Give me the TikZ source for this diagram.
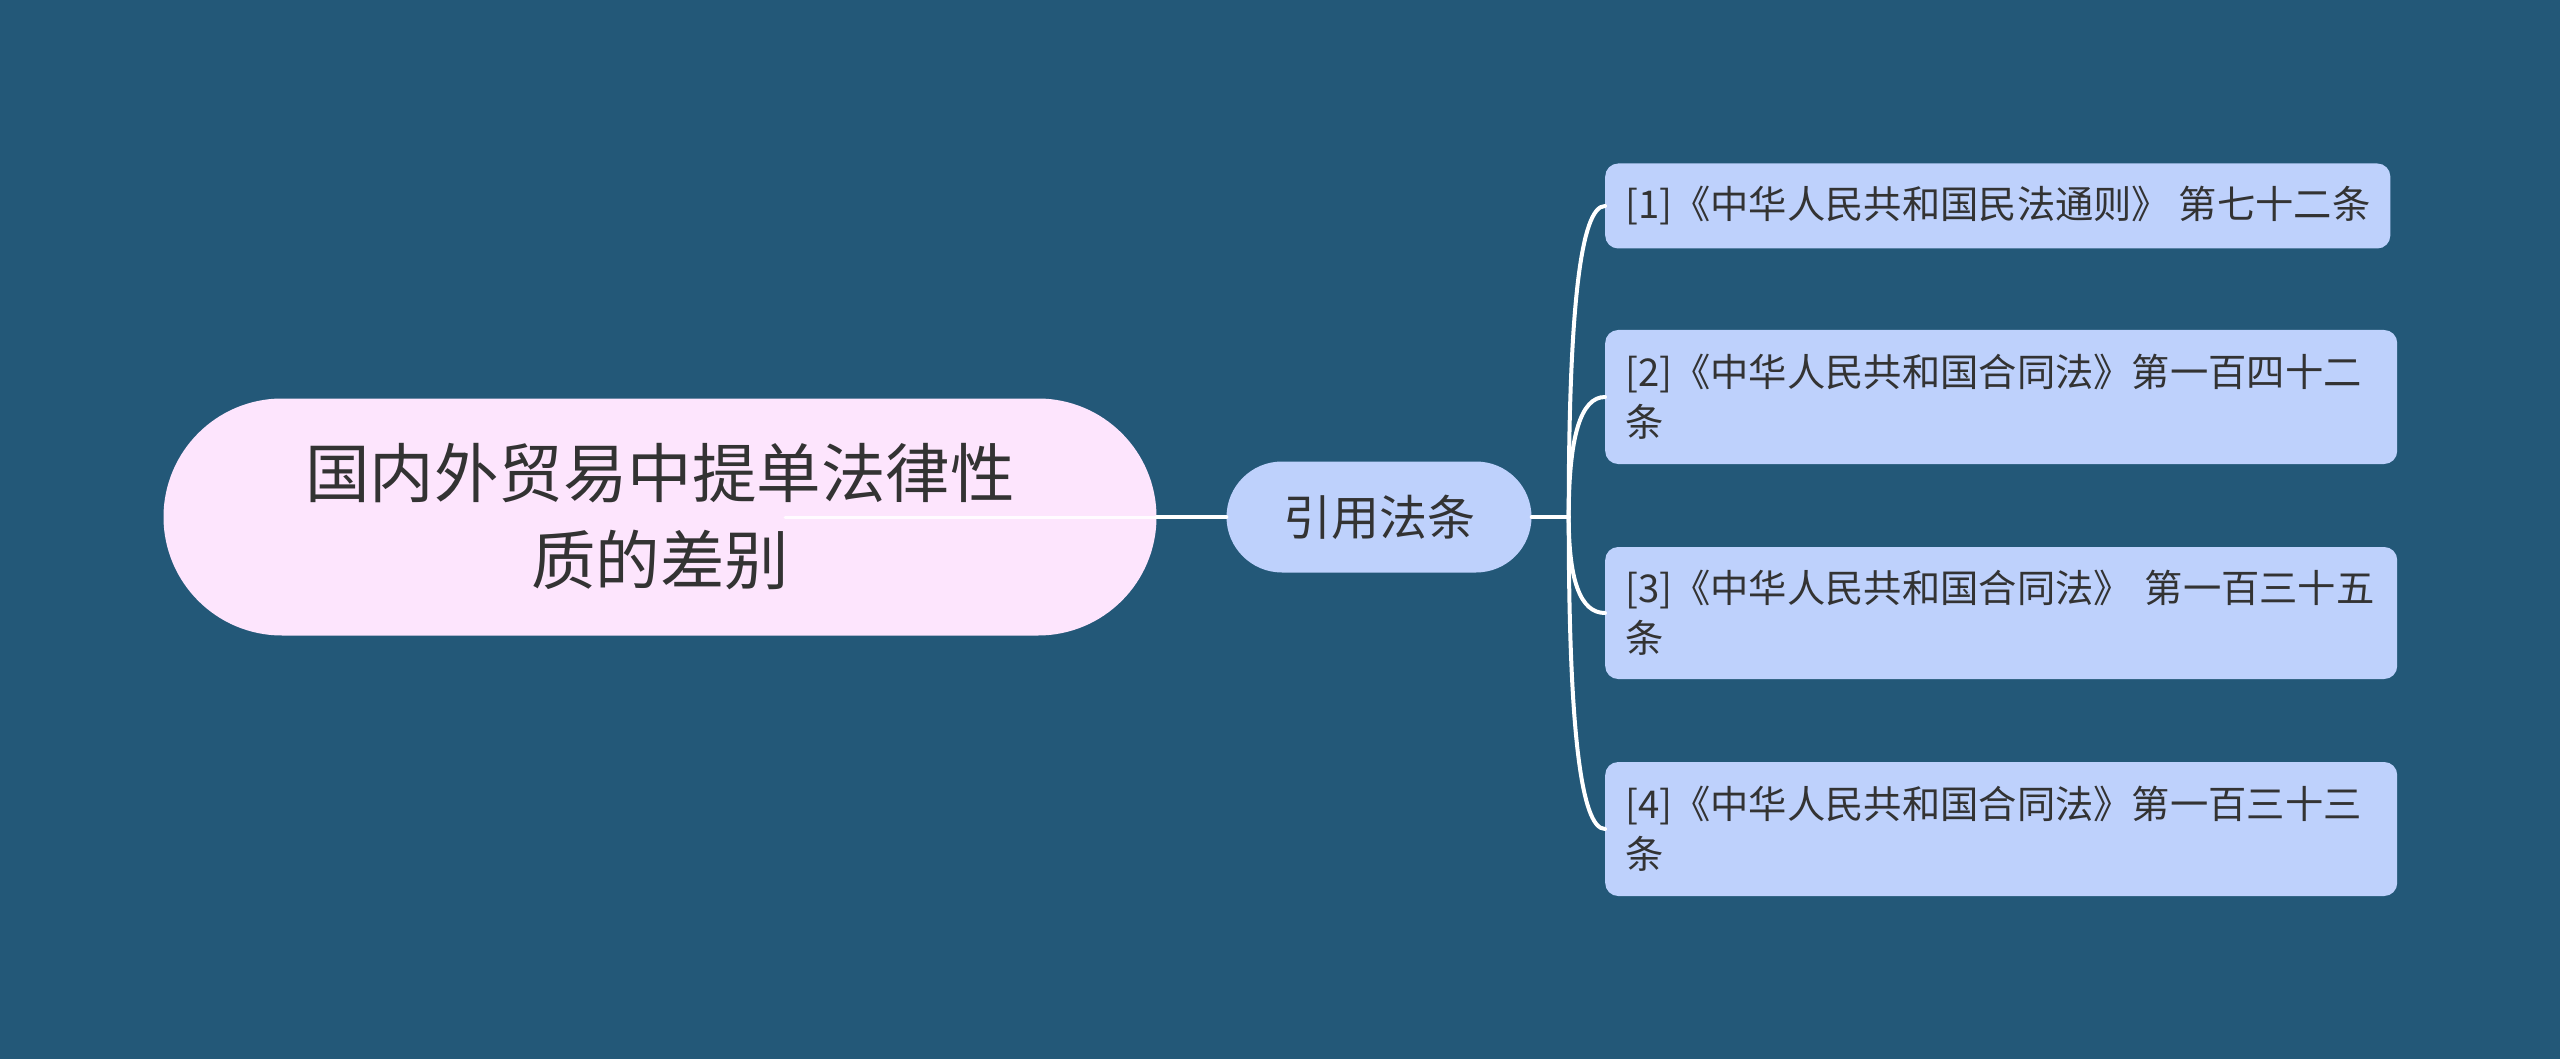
\documentclass[tikz,border=0pt]{standalone}
\usepackage{fontspec}
\setmainfont{Noto Sans CJK SC}
\usepackage{tikz}
\usetikzlibrary{positioning, shapes.misc, calc}

\definecolor{bgblue}{HTML}{235878}
\definecolor{rootpink}{HTML}{FDE5FD}
\definecolor{leafblue}{HTML}{BED1FC}
\definecolor{inkgray}{HTML}{333333}

\begin{document}
\begin{tikzpicture}[
    x=1pt, y=-1pt,
    rootbox/.style={rounded rectangle, fill=rootpink, text=inkgray, align=center,
                    minimum width=993pt, minimum height=237pt, inner sep=0pt,
                    font=\fontsize{64.5}{87}\selectfont},
    midbox/.style={rounded rectangle, fill=leafblue, text=inkgray,
                   minimum width=305pt, minimum height=111pt, inner sep=0pt,
                   font=\fontsize{48}{60}\selectfont},
    leafbox/.style={rectangle, rounded corners=13pt, fill=leafblue, text=inkgray,
                    anchor=west, align=left, inner xsep=20pt, inner ysep=0pt,
                    font=\fontsize{38.3}{50}\selectfont},
    link/.style={draw=white, line width=4pt, line cap=round}]

    % Background
    \fill[bgblue] (0,0) rectangle (2560,1059);
    \useasboundingbox (0,0) rectangle (2560,1059);

    % Central topic
    \node[rootbox] (root) at (660,517) {国内外贸易中提单法律性\\质的差别};

    % Main branch
    \node[midbox] (mid) at (1379,517) {引用法条};

    % Leaves
    \node[leafbox, minimum height=85pt] (leaf1) at (1605,206)
        {[1]《中华人民共和国民法通则》 第七十二条};
    \node[leafbox, minimum height=134pt, text width=752pt] (leaf2) at (1605,397)
        {[2]《中华人民共和国合同法》第一百四十二\\条};
    \node[leafbox, minimum height=132pt, text width=752pt] (leaf3) at (1605,613)
        {[3]《中华人民共和国合同法》 第一百三十五\\条};
    \node[leafbox, minimum height=134pt, text width=752pt] (leaf4) at (1605,829)
        {[4]《中华人民共和国合同法》第一百三十三\\条};

    % Connectors
    \draw[link, line width=3pt, white!85!rootpink] ([xshift=125pt]root.center) -- (root.east);
    \draw[link] (root.east) -- (mid.west);
    \coordinate (fork) at ([xshift=37pt]mid.east);
    \draw[link] (mid.east) -- (fork);
    \foreach \leaf in {leaf1, leaf2, leaf3, leaf4}
        \draw[link] (fork) .. controls ($(fork)!0.67!(fork |- \leaf.west)$)
            and ($(\leaf.west)!0.67!(fork |- \leaf.west)$) .. (\leaf.west);

\end{tikzpicture}
\end{document}
